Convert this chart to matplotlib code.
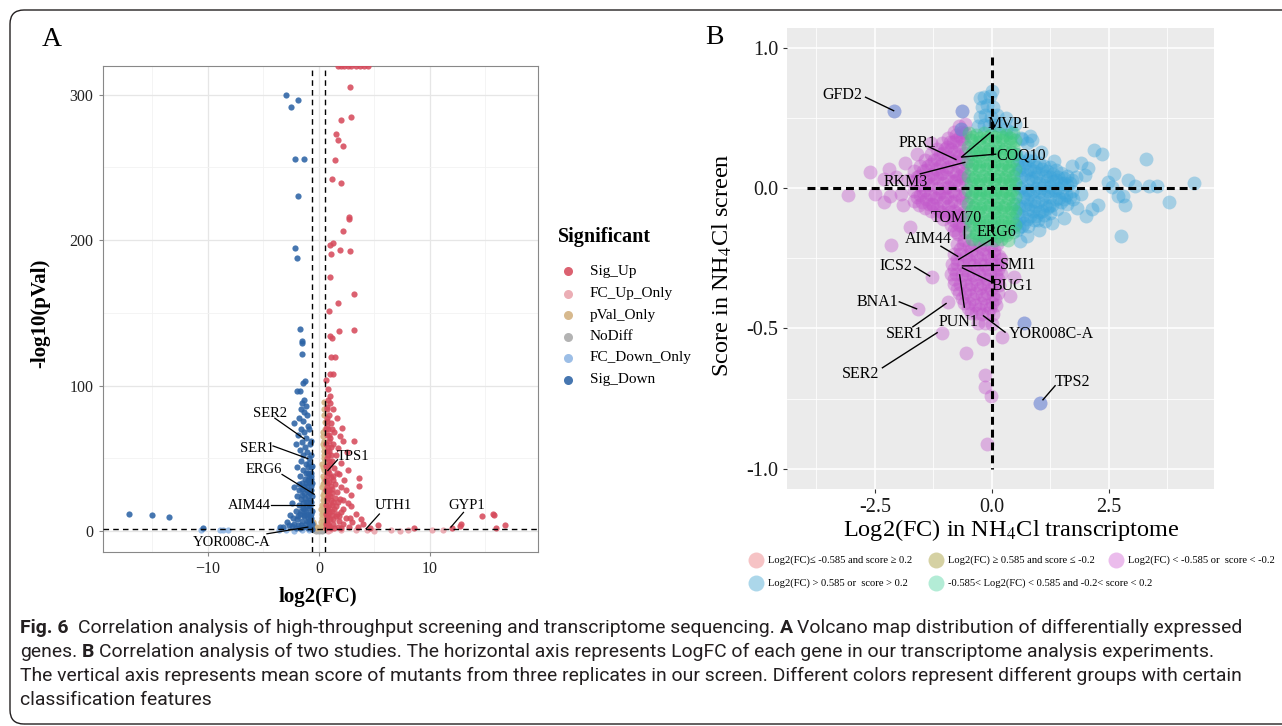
import matplotlib
matplotlib.use('Agg')
import matplotlib.pyplot as plt
from matplotlib.lines import Line2D
from matplotlib.patches import FancyBboxPatch
from matplotlib.transforms import IdentityTransform

W, H = 1282, 726
plt.rcParams['font.family'] = ['Liberation Serif', 'DejaVu Serif']
plt.rcParams['mathtext.fontset'] = 'stix'

# ---------------- panel A data: (log2FC, -log10 pval) ----------------
sig_up = [
    (1.7, 320), (2.0, 320), (2.3, 320), (2.6, 320), (2.9, 320), (3.3, 320), (3.7, 320), (4.1, 320), (4.4, 320),
    (2.84, 305), (2.0, 282.7), (2.9, 284.9), (1.58, 272.9), (1.68, 268.6), (2.19, 264.5), (1.45, 255),
    (1.19, 242), (2.03, 239.5), (2.68, 216), (2.74, 214.4), (2.13, 206.5), (1.26, 198), (1.03, 196.5),
    (1.94, 193.5), (2.8, 192.4), (1.1, 190.5), (0.97, 174.4), (3.16, 163), (1.74, 157), (0.87, 151.3),
    (1.84, 137.4), (3.13, 138.2), (1.03, 134.1), (1.19, 132.8), (1.13, 120), (1.45, 120), (1.03, 108.3),
    (1.29, 108), (0.65, 103.7), (0.8, 98),
    (0.8, 90), (1.0, 88), (0.7, 85), (1.3, 84), (0.9, 80), (1.6, 78), (0.75, 76), (1.1, 74), (2.1, 71),
    (0.85, 70), (1.4, 68), (0.7, 66), (1.9, 65), (1.0, 64), (3.2, 62), (2.2, 62), (1.25, 60), (0.8, 58),
    (1.7, 57), (0.95, 55), (2.5, 54), (1.5, 52), (0.7, 50), (1.15, 48), (2.0, 47), (0.85, 45), (1.35, 43),
    (2.6, 42), (0.75, 40), (1.8, 39), (1.05, 37), (3.6, 36.7), (2.3, 35), (0.9, 34), (1.45, 32), (3.65, 31),
    (0.7, 30), (1.2, 29), (2.4, 28), (1.65, 27), (0.85, 26), (2.9, 25), (1.0, 24), (1.9, 22), (0.75, 21),
    (2.15, 21), (1.3, 20), (2.6, 19), (0.9, 18), (1.55, 17), (2.87, 17), (0.7, 15), (1.15, 14), (2.0, 13),
    (3.3, 12), (0.8, 11), (1.5, 10), (2.4, 9), (1.0, 8), (1.85, 7), (3.0, 6.5), (0.7, 6), (1.3, 5), (2.2, 4.5),
    (4.0, 4.9), (5.32, 4.4), (0.9, 3.5), (1.7, 3), (2.7, 3), (3.5, 2.5), (1.1, 2.2), (2.0, 2), (4.6, 2.2),
    (0.65, 2), (1.4, 1.8), (0.72, 8.5), (0.68, 12), (0.75, 23), (0.66, 35), (0.8, 42), (0.7, 55),
    (0.9, 62), (0.72, 72), (1.05, 52), (1.25, 38), (0.95, 28), (1.15, 18), (0.8, 4.5), (1.2, 11),
    (0.65, 5), (0.75, 9.5), (0.68, 18), (0.8, 25), (0.66, 28), (0.75, 33), (0.95, 13), (1.1, 21),
    (0.9, 40), (1.0, 46), (0.66, 45), (1.3, 35), (1.2, 26), (1.45, 23), (1.6, 12), (1.25, 8), (0.8, 52),
    (1.1, 58), (0.68, 60), (0.9, 66), (1.2, 70), (0.7, 78), (1.0, 93), (1.6, 40), (2.2, 15), (2.8, 9),
    (3.8, 8), (0.85, 15), (1.05, 31), (0.72, 38), (1.4, 15), (0.95, 3), (1.7, 20), (2.0, 30), (1.8, 10),
    (0.67, 70), (0.75, 84), (0.9, 48),
    (8.6, 2.2), (12.8, 4.9), (12.7, 3.5), (14.7, 10.3), (15.7, 11.7), (15.8, 10.9), (15.97, 2.2),
    (16.8, 4.1), (12.0, 2.2),
]
fc_up_only = [(1.0, 0.8), (2.0, 0.5), (3.3, 0.6), (4.3, 0.9), (5.0, 0.3), (6.5, 0.7), (7.3, 0.2),
              (8.0, 0.5), (10.2, 0.6), (11.2, 1.0), (0.8, 0.3)]
pval_only = [(0.5, 89), (0.45, 80), (0.52, 75), (0.4, 68), (0.48, 62), (0.36, 59.6), (0.5, 55), (0.42, 50),
             (0.3, 46), (0.5, 42), (0.38, 38), (0.47, 34), (0.25, 30), (0.42, 27), (0.5, 24), (0.33, 21),
             (0.45, 18), (0.2, 15), (0.4, 13), (0.5, 11), (0.28, 9), (0.45, 7), (0.15, 6), (0.35, 5),
             (0.5, 4), (-0.45, 4), (-0.5, 6), (0.05, 3), (0.25, 2.5), (-0.35, 2.5), (-0.2, 2),
             (0.42, 3), (0.48, 15), (0.38, 25), (0.52, 29), (0.45, 36), (0.4, 44), (0.52, 48), (0.47, 52),
             (0.35, 65), (0.55, 70), (0.3, 12), (0.45, 22), (0.5, 58), (0.42, 84), (0.38, 32), (0.3, 18)]
no_diff = [(-0.4, 0.5), (-0.2, 0.8), (0.0, 0.3), (0.2, 1.0), (0.4, 0.6), (-0.1, 1.1), (0.3, 0.2),
           (0.1, 0.7), (-0.3, 0.2), (0.5, 0.9)]
fc_down_only = [(-8.9, 0.6), (-8.6, 0.4), (-8.2, 0.8), (-10.6, 0.9), (-3.6, 0.5), (-3.0, 0.8),
                (-2.2, 0.3), (-1.5, 0.6), (-0.9, 0.4)]
sig_down = [
    (-3.0, 300.1), (-1.84, 296.3), (-2.55, 291.4), (-2.16, 256), (-1.35, 255.5), (-1.87, 230.7),
    (-2.13, 194.8), (-1.94, 187.5), (-1.68, 139), (-1.55, 130.9), (-1.55, 129), (-1.55, 121.6),
    (-1.29, 103.4), (-1.39, 101.5), (-1.97, 96), (-1.71, 96),
    (-1.3, 90), (-1.5, 88), (-1.2, 86), (-1.6, 84), (-1.35, 82), (-1.1, 80), (-1.8, 78), (-1.45, 76),
    (-2.2, 74), (-1.0, 72), (-1.6, 70), (-1.3, 68), (-1.9, 66), (-1.15, 64), (-2.1, 60), (-1.5, 61),
    (-0.8, 60), (-1.25, 58), (-1.7, 56), (-1.05, 54), (-1.4, 52), (-0.9, 50), (-1.6, 48), (-1.2, 46),
    (-1.95, 44), (-0.75, 44), (-1.4, 42), (-1.0, 40), (-1.7, 38), (-1.25, 36), (-0.85, 34), (-2.2, 30),
    (-1.5, 33), (-1.1, 31), (-1.8, 28), (-0.7, 28), (-1.35, 26), (-1.0, 24), (-2.0, 24), (-1.6, 22),
    (-0.8, 21), (-1.2, 20), (-2.4, 19), (-1.8, 18), (-1.45, 16), (-0.9, 16), (-2.1, 14), (-1.15, 13),
    (-0.7, 12), (-1.7, 12), (-2.6, 11), (-1.35, 10), (-0.95, 9), (-2.0, 8), (-1.55, 7), (-0.75, 6),
    (-2.9, 6), (-1.2, 5), (-1.85, 4), (-2.4, 3.5), (-0.85, 3), (-1.45, 2.5), (-3.2, 2.5), (-1.0, 2),
    (-2.1, 2), (-1.7, 1.8), (-0.65, 1.6), (-3.5, 3), (-2.7, 4), (-0.7, 20), (-0.68, 38), (-0.9, 27),
    (-1.1, 7), (-0.8, 10), (-1.3, 15),
    (-0.65, 5), (-0.75, 9), (-0.65, 14), (-0.8, 17), (-0.65, 24), (-0.75, 31), (-0.65, 33), (-0.9, 38),
    (-0.7, 40), (-1.0, 44), (-0.85, 47), (-0.7, 52), (-1.1, 28), (-1.25, 23), (-1.4, 19), (-1.05, 17),
    (-1.6, 14), (-1.3, 11), (-1.9, 10), (-0.9, 6), (-1.65, 4), (-2.2, 5), (-1.05, 12), (-1.5, 25),
    (-1.8, 32), (-0.95, 20), (-1.2, 33), (-0.62, 45), (-0.7, 62), (-0.9, 70), (-1.15, 40), (-0.8, 26),
    (-1.55, 29), (-2.3, 9), (-1.0, 35), (-0.7, 36), (-1.3, 30),
    (-17.1, 11.7), (-15.0, 10.9), (-13.5, 9.8), (-10.4, 2.2),
]
groups_a = ['Sig_Up', 'FC_Up_Only', 'pVal_Only', 'NoDiff', 'FC_Down_Only', 'Sig_Down']
colors_a = ['#d64b5c', '#e9a3ab', '#d2b07f', '#a9a9a9', '#8fb5e3', '#2c63a5']
points_a = [sig_up, fc_up_only, pval_only, no_diff, fc_down_only, sig_down]
draw_order_a = [3, 1, 4, 2, 0, 5]

# label text position, segment start, segment end
labels_a = {
    'SER2': ((-4.42, 80.5), (-3.97, 77.6), (-1.32, 63.4)),
    'SER1': ((-5.58, 56.6), (-4.13, 58.5), (-1.0, 49.8)),
    'ERG6': ((-4.97, 42.2), (-3.32, 38.9), (-0.42, 25.3)),
    'AIM44': ((-6.23, 17.7), (-4.29, 17.7), (-0.42, 17.7)),
    'YOR008C-A': ((-7.9, -8.2), (-4.68, -1.9), (-1.0, 2.7)),
    'TPS1': ((3.1, 51.2), (1.68, 49.0), (0.81, 41.6)),
    'UTH1': ((6.68, 17.7), (5.45, 11.7), (4.26, 1.6)),
    'GYP1': ((13.35, 17.7), (13.03, 12.8), (11.9, 2.7)),
}
xticks_a = [-10, 0, 10]
xticklabels_a = ['\u221210', '0', '10']
yticks_a = [0, 100, 200, 300]

# ---------------- panel B data: (log2FC, score) ----------------
purple_pts = [
    # left wedge
    (-0.58, 0.23), (-0.57, 0.195), (-0.59, 0.16), (-0.58, 0.125), (-0.56, 0.09), (-0.59, 0.055),
    (-0.57, 0.02), (-0.58, -0.015), (-0.56, -0.05), (-0.59, -0.085), (-0.57, -0.12), (-0.58, -0.155),
    (-0.6, -0.185),
    (-0.7, 0.22), (-0.69, 0.185), (-0.71, 0.15), (-0.7, 0.115), (-0.72, 0.08), (-0.69, 0.045),
    (-0.71, 0.01), (-0.7, -0.025), (-0.68, -0.06), (-0.71, -0.095), (-0.7, -0.13), (-0.72, -0.165),
    (-0.82, 0.2), (-0.83, 0.165), (-0.81, 0.13), (-0.82, 0.095), (-0.84, 0.06), (-0.81, 0.025),
    (-0.83, -0.01), (-0.82, -0.045), (-0.8, -0.08), (-0.83, -0.115), (-0.82, -0.15),
    (-0.94, 0.18), (-0.95, 0.145), (-0.93, 0.11), (-0.94, 0.075), (-0.96, 0.04), (-0.93, 0.005),
    (-0.95, -0.03), (-0.94, -0.065), (-0.92, -0.1),
    (-1.06, 0.16), (-1.05, 0.125), (-1.07, 0.09), (-1.06, 0.055), (-1.04, 0.02), (-1.07, -0.015),
    (-1.05, -0.05), (-1.06, -0.085), (-1.04, -0.11),
    (-1.18, 0.14), (-1.17, 0.105), (-1.19, 0.07), (-1.18, 0.035), (-1.16, 0.0), (-1.19, -0.035),
    (-1.17, -0.07), (-1.18, -0.095),
    (-1.3, 0.12), (-1.31, 0.085), (-1.29, 0.05), (-1.3, 0.015), (-1.32, -0.02), (-1.29, -0.055),
    (-1.3, -0.08),
    (-1.42, 0.1), (-1.41, 0.065), (-1.43, 0.03), (-1.42, -0.005), (-1.4, -0.04), (-1.43, -0.07),
    (-1.54, 0.08), (-1.55, 0.045), (-1.53, 0.01), (-1.54, -0.025), (-1.56, -0.06),
    (-1.66, 0.06), (-1.65, 0.025), (-1.67, -0.01), (-1.66, -0.045),
    (-0.64, 0.2), (-0.76, 0.17), (-0.88, 0.14), (-0.64, -0.1), (-0.76, -0.12), (-0.88, -0.05),
    (-1.0, 0.0), (-1.12, 0.08), (-1.24, -0.03), (-0.64, 0.07), (-0.76, 0.03), (-1.36, 0.04),
    (-0.63, 0.175), (-0.65, 0.105), (-0.62, 0.035), (-0.64, -0.035), (-0.63, -0.135),
    (-0.77, 0.19), (-0.75, 0.12), (-0.76, 0.05), (-0.78, -0.02), (-0.75, -0.09), (-0.77, -0.155),
    (-0.89, 0.165), (-0.87, 0.095), (-0.88, 0.025), (-0.89, -0.085), (-0.87, -0.13),
    (-1.0, 0.14), (-0.99, 0.07), (-1.01, -0.035), (-1.0, -0.095),
    (-1.12, 0.12), (-1.11, 0.05), (-1.13, -0.02), (-1.12, -0.08),
    (-1.24, 0.1), (-1.23, 0.035), (-1.25, -0.06),
    (-1.36, 0.08), (-1.37, 0.01), (-1.35, -0.055),
    (-1.48, 0.06), (-1.47, -0.015), (-1.49, -0.05),
    (-1.6, 0.04), (-1.61, -0.03),
    # wedge fringe
    (-1.8, 0.03), (-1.95, -0.02), (-2.05, 0.04), (-2.2, 0.07), (-2.3, -0.05), (-2.6, 0.057),
    (-2.18, -0.029), (-3.08, -0.023), (-2.31, 0.034), (-1.61, 0.12), (-1.85, 0.09), (-1.3, 0.16),
    (-1.75, -0.137), (-2.16, -0.201), (-1.9, -0.06), (-2.5, -0.02),
    # points that also pass the blue rule
    (-2.1, 0.274), (-0.63, 0.274), (-0.66, 0.212),
    # bottom lobe
    (-0.74, -0.2), (-0.62, -0.2), (-0.5, -0.205), (-0.38, -0.2), (-0.26, -0.205), (-0.14, -0.2),
    (-0.02, -0.205), (0.1, -0.2),
    (-0.8, -0.235), (-0.68, -0.235), (-0.56, -0.24), (-0.44, -0.235), (-0.32, -0.24), (-0.2, -0.235),
    (-0.08, -0.24), (0.04, -0.235), (0.16, -0.24),
    (-0.86, -0.27), (-0.74, -0.27), (-0.62, -0.275), (-0.5, -0.27), (-0.38, -0.275), (-0.26, -0.27),
    (-0.14, -0.275), (-0.02, -0.27), (0.1, -0.275), (0.2, -0.27),
    (-0.88, -0.305), (-0.76, -0.305), (-0.64, -0.31), (-0.52, -0.305), (-0.4, -0.31), (-0.28, -0.305),
    (-0.16, -0.31), (-0.04, -0.305), (0.08, -0.31), (0.2, -0.305),
    (-0.8, -0.34), (-0.68, -0.34), (-0.56, -0.345), (-0.44, -0.34), (-0.32, -0.345), (-0.2, -0.34),
    (-0.08, -0.345), (0.04, -0.34), (0.15, -0.345),
    (-0.7, -0.375), (-0.58, -0.375), (-0.46, -0.38), (-0.34, -0.375), (-0.22, -0.38), (-0.1, -0.375),
    (0.02, -0.38), (0.12, -0.375),
    (-0.6, -0.41), (-0.48, -0.41), (-0.36, -0.415), (-0.24, -0.41), (-0.12, -0.415), (0.0, -0.41),
    (0.08, -0.415),
    (-0.45, -0.445), (-0.33, -0.445), (-0.21, -0.45), (-0.09, -0.445), (0.03, -0.45),
    (-0.3, -0.48), (-0.15, -0.48), (0.0, -0.485),
    (-0.68, -0.218), (-0.44, -0.22), (-0.2, -0.217), (0.04, -0.219),
    (-0.74, -0.253), (-0.5, -0.255), (-0.26, -0.252), (-0.02, -0.254), (0.2, -0.253),
    (-0.8, -0.288), (-0.56, -0.29), (-0.32, -0.287), (-0.08, -0.289), (0.14, -0.288),
    (-0.82, -0.323), (-0.58, -0.325), (-0.34, -0.322), (-0.1, -0.324), (0.14, -0.323),
    (-0.74, -0.358), (-0.5, -0.36), (-0.26, -0.357), (-0.02, -0.359),
    (-0.64, -0.393), (-0.4, -0.395), (-0.16, -0.392), (0.06, -0.394),
    (-0.52, -0.428), (-0.28, -0.43), (-0.04, -0.427),
    # scattered low scores
    (-1.29, -0.316), (-1.58, -0.431), (-0.94, -0.406), (-1.06, -0.515), (-0.55, -0.589), (-0.2, -0.538),
    (-0.14, -0.665), (-0.14, -0.71), (-0.02, -0.742), (-0.1, -0.911), (0.21, -0.532), (0.39, -0.386),
    (0.47, -0.316), (0.69, -0.48), (1.03, -0.765),
]
blue_pts = [
    # right wedge
    (0.52, 0.12), (0.53, 0.085), (0.51, 0.05), (0.52, 0.015), (0.54, -0.02), (0.51, -0.055),
    (0.53, -0.09), (0.52, -0.125), (0.54, -0.15),
    (0.64, 0.11), (0.65, 0.075), (0.63, 0.04), (0.64, 0.005), (0.66, -0.03), (0.63, -0.065),
    (0.65, -0.1), (0.64, -0.135),
    (0.76, 0.1), (0.75, 0.065), (0.77, 0.03), (0.76, -0.005), (0.74, -0.04), (0.77, -0.075),
    (0.75, -0.11), (0.76, -0.135),
    (0.88, 0.095), (0.89, 0.06), (0.87, 0.025), (0.88, -0.01), (0.9, -0.045), (0.87, -0.08),
    (0.89, -0.115),
    (1.0, 0.09), (0.99, 0.055), (1.01, 0.02), (1.0, -0.015), (0.98, -0.05), (1.01, -0.085),
    (0.99, -0.115),
    (1.12, 0.08), (1.13, 0.045), (1.11, 0.01), (1.12, -0.025), (1.14, -0.06), (1.11, -0.095),
    (1.24, 0.075), (1.23, 0.04), (1.25, 0.005), (1.24, -0.03), (1.22, -0.065), (1.25, -0.09),
    (1.36, 0.065), (1.37, 0.03), (1.35, -0.005), (1.36, -0.04), (1.38, -0.075),
    (1.48, 0.055), (1.47, 0.02), (1.49, -0.015), (1.48, -0.05),
    (1.6, 0.045), (1.61, 0.01), (1.59, -0.025), (1.6, -0.055),
    (1.72, 0.03), (1.71, -0.01), (1.73, -0.04),
    (0.58, 0.1), (0.7, 0.09), (0.82, 0.07), (0.94, 0.0), (1.06, -0.04), (1.18, 0.03), (0.58, -0.11),
    (0.7, -0.06), (0.82, -0.02), (1.3, -0.01), (1.42, 0.0), (0.94, -0.1), (1.54, 0.02),
    (0.58, 0.065), (0.59, 0.0), (0.57, -0.07), (0.58, -0.14),
    (0.7, 0.05), (0.71, -0.015), (0.69, -0.125),
    (0.82, 0.11), (0.83, 0.035), (0.81, -0.055), (0.82, -0.1),
    (0.94, 0.075), (0.95, 0.04), (0.93, -0.065),
    (1.06, 0.07), (1.05, 0.0), (1.07, -0.08),
    (1.18, 0.06), (1.19, -0.01), (1.17, -0.07),
    (1.3, 0.05), (1.31, 0.025), (1.29, -0.06),
    (1.42, 0.04), (1.43, -0.035), (1.54, 0.035), (1.55, -0.04), (1.66, 0.02), (1.67, -0.03),
    # right fringe
    (4.32, 0.018), (3.79, -0.048), (3.29, 0.103), (2.18, 0.136), (2.36, 0.123), (2.76, -0.172),
    (2.85, -0.059), (2.81, -0.029), (2.69, -0.029), (3.06, 0.006), (3.52, 0.009), (3.35, 0.009),
    (2.48, 0.022), (2.56, 0.003), (2.26, -0.061), (2.14, -0.074), (2.06, 0.073), (1.98, 0.047),
    (1.9, -0.02), (1.82, -0.07), (1.53, -0.106), (1.29, -0.125), (1.13, -0.118), (1.33, 0.098),
    (0.81, 0.187), (0.65, 0.174), (0.59, -0.188), (1.05, 0.13), (1.9, 0.09), (2.0, -0.1), (2.6, 0.05),
    (2.9, 0.03), (1.7, 0.08), (1.8, 0.04), (0.75, -0.17), (1.0, -0.15),
    # top lobe
    (-0.3, 0.22), (-0.18, 0.225), (-0.06, 0.22), (0.06, 0.225), (0.18, 0.22), (0.3, 0.21),
    (-0.26, 0.255), (-0.14, 0.26), (-0.02, 0.255), (0.1, 0.26),
    (-0.22, 0.29), (-0.1, 0.295), (0.02, 0.29),
    (-0.16, 0.325), (-0.04, 0.33), (-0.26, 0.32), (0.0, 0.345),
    (0.4, 0.2), (0.5, 0.23), (0.62, 0.18), (0.75, 0.16), (0.85, 0.17), (0.3, 0.25),
    # points that also pass the purple rule
    (-2.1, 0.274), (-0.63, 0.274), (-0.66, 0.212), (0.69, -0.48), (1.03, -0.765),
]
green_pts = [
    (-0.5, 0.195), (-0.33, 0.19), (-0.18, 0.195), (-0.02, 0.19), (0.15, 0.195), (0.3, 0.19), (0.46, 0.195),
    (-0.44, 0.17), (-0.27, 0.165), (-0.1, 0.17), (0.06, 0.165), (0.22, 0.17), (0.38, 0.165), (0.5, 0.17),
    (-0.52, 0.145), (-0.36, 0.14), (-0.2, 0.145), (-0.04, 0.14), (0.12, 0.145), (0.28, 0.14), (0.44, 0.145),
    (-0.45, 0.12), (-0.29, 0.115), (-0.12, 0.12), (0.04, 0.115), (0.2, 0.12), (0.36, 0.115), (0.5, 0.12),
    (-0.52, 0.095), (-0.37, 0.09), (-0.21, 0.095), (-0.05, 0.09), (0.11, 0.095), (0.27, 0.09), (0.43, 0.095),
    (-0.44, 0.07), (-0.28, 0.065), (-0.13, 0.07), (0.03, 0.065), (0.19, 0.07), (0.35, 0.065), (0.5, 0.07),
    (-0.51, 0.045), (-0.36, 0.04), (-0.2, 0.045), (-0.04, 0.04), (0.12, 0.045), (0.28, 0.04), (0.44, 0.045),
    (-0.45, 0.02), (-0.29, 0.015), (-0.12, 0.02), (0.04, 0.015), (0.2, 0.02), (0.36, 0.015), (0.5, 0.02),
    (-0.52, -0.005), (-0.37, -0.01), (-0.21, -0.005), (-0.05, -0.01), (0.11, -0.005), (0.27, -0.01),
    (0.43, -0.005),
    (-0.44, -0.03), (-0.28, -0.035), (-0.13, -0.03), (0.03, -0.035), (0.19, -0.03), (0.35, -0.035),
    (0.5, -0.03),
    (-0.51, -0.055), (-0.36, -0.06), (-0.2, -0.055), (-0.04, -0.06), (0.12, -0.055), (0.28, -0.06),
    (0.44, -0.055),
    (-0.45, -0.08), (-0.29, -0.085), (-0.12, -0.08), (0.04, -0.085), (0.2, -0.08), (0.36, -0.085),
    (0.5, -0.08),
    (-0.52, -0.105), (-0.37, -0.11), (-0.21, -0.105), (-0.05, -0.11), (0.11, -0.105), (0.27, -0.11),
    (0.43, -0.105),
    (-0.44, -0.13), (-0.28, -0.135), (-0.13, -0.13), (0.03, -0.135), (0.19, -0.13), (0.35, -0.135),
    (0.49, -0.13),
    (-0.5, -0.155), (-0.35, -0.16), (-0.2, -0.155), (-0.04, -0.16), (0.12, -0.155), (0.28, -0.16),
    (0.44, -0.155),
    (-0.42, -0.18), (-0.27, -0.185), (-0.12, -0.18), (0.04, -0.185), (0.2, -0.18), (0.35, -0.185),
    (-0.42, 0.182), (-0.26, 0.18), (-0.1, 0.183), (0.06, 0.181), (0.22, 0.182), (0.38, 0.18),
    (-0.4, 0.132), (-0.25, 0.13), (-0.08, 0.133), (0.08, 0.131), (0.24, 0.132), (0.4, 0.13),
    (-0.43, 0.082), (-0.27, 0.08), (-0.11, 0.083), (0.05, 0.081), (0.21, 0.082), (0.37, 0.08),
    (-0.41, 0.032), (-0.25, 0.03), (-0.09, 0.033), (0.07, 0.031), (0.23, 0.032), (0.39, 0.03),
    (-0.42, -0.018), (-0.26, -0.02), (-0.1, -0.017), (0.06, -0.019), (0.22, -0.018), (0.38, -0.02),
    (-0.4, -0.068), (-0.25, -0.07), (-0.08, -0.067), (0.08, -0.069), (0.24, -0.068), (0.4, -0.07),
    (-0.43, -0.118), (-0.27, -0.12), (-0.11, -0.117), (0.05, -0.119), (0.21, -0.118), (0.37, -0.12),
    (-0.34, -0.168), (-0.18, -0.17), (-0.02, -0.167), (0.14, -0.169), (0.3, -0.168),
]
labels_b = {
    'GFD2': ((-3.19, 0.333), (-2.70, 0.324), (-2.10, 0.276)),
    'MVP1': ((0.355, 0.228), (-0.04, 0.197), (-0.65, 0.111)),
    'PRR1': ((-1.58, 0.162), (-1.37, 0.149), (-0.77, 0.102)),
    'COQ10': ((0.63, 0.117), (0.08, 0.121), (-0.63, 0.111)),
    'RKM3': ((-1.84, 0.022), (-1.53, 0.051), (-0.58, 0.092)),
    'TOM70': ((-0.77, -0.106), (-0.59, -0.134), (-0.59, -0.179)),
    'ERG6': ((0.105, -0.156), (0.0, -0.182), (-0.71, -0.254)),
    'AIM44': ((-1.35, -0.182), (-1.09, -0.207), (-0.73, -0.243)),
    'SMI1': ((0.55, -0.275), (0.16, -0.275), (-0.63, -0.277)),
    'BUG1': ((0.44, -0.35), (0.0, -0.335), (-0.63, -0.284)),
    'ICS2': ((-2.06, -0.277), (-1.65, -0.281), (-1.33, -0.313)),
    'BNA1': ((-2.44, -0.405), (-1.98, -0.405), (-1.61, -0.43)),
    'SER1': ((-1.87, -0.519), (-1.69, -0.494), (-0.98, -0.411)),
    'PUN1': ((-0.71, -0.478), (-0.59, -0.424), (-0.69, -0.309)),
    'SER2': ((-2.81, -0.662), (-2.34, -0.64), (-1.17, -0.515)),
    'YOR008C-A': ((1.28, -0.519), (0.28, -0.513), (-0.18, -0.455)),
    'TPS2': ((1.72, -0.691), (1.35, -0.704), (1.09, -0.754)),
}
xticks_b = [-2.5, 0.0, 2.5]
xticklabels_b = ['-2.5', '0.0', '2.5']
yticks_b = [0.5, 0.0, -0.5, -1.0]
yticklabels_b = ['1.0', '0.0', '-0.5', '-1.0']
legend_b = ['Log2(FC)\u2264 -0.585 and score \u2265 0.2',
            'Log2(FC) \u2265 0.585 and score \u2264 -0.2',
            'Log2(FC) < -0.585 or  score < -0.2',
            'Log2(FC) > 0.585 or  score > 0.2',
            '-0.585< Log2(FC) < 0.585 and -0.2< score < 0.2']
legend_b_colors = ['#f6c3c5', '#d5d1a3', '#ebbcec', '#acd7ea', '#b3ecd6']

caption = [
    [('Fig. 6', True), ('  Correlation analysis of high-throughput screening and transcriptome sequencing.', False),
     (' A', True), (' Volcano map distribution of differentially expressed', False)],
    [('genes.', False), (' B', True),
     (' Correlation analysis of two studies. The horizontal axis represents LogFC of each gene in our transcriptome analysis experiments.', False)],
    [('The vertical axis represents mean score of mutants from three replicates in our screen. Different colors represent different groups with certain', False)],
    [('classification features', False)],
]


def fx(px):
    return px / W


def fy(py):
    return 1 - py / H


fig = plt.figure(figsize=(W / 100, H / 100), dpi=100)

# rounded frame around the whole figure
fig.add_artist(FancyBboxPatch((10, 2), 1300, 714, boxstyle='round,pad=0,rounding_size=14',
                              transform=IdentityTransform(), fill=False, lw=1.0, ec='#231f20'))

# ---------------- panel A ----------------
axA = fig.add_axes([fx(102.5), fy(552.4), 435 / W, (552.4 - 66.4) / H])
for i in draw_order_a:
    pts = points_a[i]
    axA.scatter([p[0] for p in pts], [p[1] for p in pts], s=20, color=colors_a[i], alpha=0.88,
                linewidths=0, zorder=3)
axA.set_xlim(-19.5, 19.7)
axA.set_ylim(-14.7, 319.5)
axA.set_xticks(xticks_a)
axA.set_xticklabels(xticklabels_a)
axA.set_yticks(yticks_a)
axA.set_xticks([-15, -5, 5, 15], minor=True)
axA.set_yticks([50, 150, 250], minor=True)
axA.grid(which='major', color='#e6e6e6', lw=0.9)
axA.grid(which='minor', color='#f2f2f2', lw=0.6)
axA.set_axisbelow(True)
axA.tick_params(which='major', length=3, color='#888888', labelsize=11.5, labelcolor='#222222')
axA.tick_params(which='minor', length=0)
for sp in axA.spines.values():
    sp.set_color('#888888')
    sp.set_linewidth(0.8)
axA.axvline(-0.585, color='black', lw=1, ls=(0, (4, 3)), zorder=4)
axA.axvline(0.585, color='black', lw=1, ls=(0, (4, 3)), zorder=4)
axA.axhline(1.3, color='black', lw=1, ls=(0, (4, 3)), zorder=4)
for name, (tp, s0, s1) in labels_a.items():
    axA.plot([s0[0], s1[0]], [s0[1], s1[1]], color='black', lw=0.9, zorder=5)
    axA.text(tp[0], tp[1], name, ha='center', va='center', fontsize=10.5, zorder=6)

fig.text(fx(40), fy(313), '-log10(pVal)', rotation=90, ha='center', va='center', fontsize=15,
         fontweight='bold')
fig.text(fx(318), fy(597), 'log2(FC)', ha='center', va='center', fontsize=15, fontweight='bold')
fig.text(fx(52), fy(40), 'A', ha='center', va='center', fontsize=20)

# legend of panel A
fig.text(fx(558), fy(237), 'Significant', ha='left', va='center', fontsize=14.5, fontweight='bold')
for i, yy in enumerate([271, 294, 315, 337, 358, 380]):
    fig.add_artist(Line2D([fx(568)], [fy(yy)], marker='o', ms=6.5, color=colors_a[i], ls='none',
                          alpha=0.88, mew=0, transform=fig.transFigure))
    fig.text(fx(590), fy(yy), groups_a[i], ha='left', va='center', fontsize=11)

# ---------------- panel B ----------------
axB = fig.add_axes([fx(787.4), fy(489.3), (1213.8 - 787.4) / W, (489.3 - 27.9) / H])
axB.set_facecolor('#ebebeb')
for pts, col in [(purple_pts, '#c257cb'), (blue_pts, '#3ba3d9'), (green_pts, '#3cc97c')]:
    axB.scatter([p[0] for p in pts], [p[1] for p in pts], s=100, color=col, alpha=0.4,
                linewidths=0, zorder=3)
axB.set_xlim(-4.37, 4.74)
axB.set_ylim(-1.073, 0.571)
axB.set_xticks(xticks_b)
axB.set_xticklabels(xticklabels_b)
axB.set_yticks(yticks_b)
axB.set_yticklabels(yticklabels_b)
axB.set_xticks([-3.75, -1.25, 1.25, 3.75], minor=True)
axB.set_yticks([0.25, -0.25, -0.75], minor=True)
axB.grid(which='major', color='white', lw=1.1)
axB.grid(which='minor', color='white', lw=0.55)
axB.set_axisbelow(True)
for sp in axB.spines.values():
    sp.set_visible(False)
axB.tick_params(which='major', length=3, color='#333333', labelsize=14.5, labelcolor='#1a1a1a')
axB.tick_params(which='minor', length=0)
axB.plot([-3.95, 4.35], [0, 0], color='black', lw=2.2, ls=(0, (2.6, 1.6)), zorder=4)
axB.plot([0, 0], [0.467, -1.0], color='black', lw=2.2, ls=(0, (2.6, 1.6)), zorder=4)
for name, (tp, s0, s1) in labels_b.items():
    axB.plot([s0[0], s1[0]], [s0[1], s1[1]], color='black', lw=1.0, zorder=5)
    axB.text(tp[0], tp[1], name, ha='center', va='center', fontsize=11.5, zorder=6)

fig.text(fx(722), fy(265), 'Score in NH$_4$Cl screen', rotation=90, ha='center', va='center',
         fontsize=17.5)
fig.text(fx(1011), fy(530), 'Log2(FC) in NH$_4$Cl transcriptome', ha='center', va='center',
         fontsize=17.5)
fig.text(fx(714), fy(37), 'B', ha='center', va='center', fontsize=20)

# legend of panel B (two rows, fixed columns)
leg_pos = [(756, 560), (936, 560), (1116, 560), (756, 583), (936, 583)]
for (cx, cy), lab, col in zip(leg_pos, legend_b, legend_b_colors):
    fig.add_artist(Line2D([fx(cx)], [fy(cy)], marker='o', ms=11.5, color=col, ls='none', mew=0,
                          transform=fig.transFigure))
    fig.text(fx(cx + 12), fy(cy), lab, ha='left', va='center', fontsize=7.6)

# ---------------- caption ----------------
r = fig.canvas.get_renderer()
probe = fig.text(0, 0, caption[2][0][0], fontsize=12, family='Roboto')
scale = 1219 / probe.get_window_extent(r).width
probe.remove()
cap_size = 12 * scale
for line, yy in zip(caption, [628, 652, 676, 700]):
    x = 20
    for txt, bold in line:
        lead = len(txt) - len(txt.lstrip(' '))
        if lead:
            sp = fig.text(0, 0, 'x' + ' ' * lead + 'x', fontsize=cap_size, family='Roboto')
            sp2 = fig.text(0, 0, 'xx', fontsize=cap_size, family='Roboto')
            x += sp.get_window_extent(r).width - sp2.get_window_extent(r).width
            sp.remove()
            sp2.remove()
        t = fig.text(fx(x), fy(yy), txt.lstrip(' '), fontsize=cap_size, family='Roboto',
                     fontweight='bold' if bold else 'normal', color='#231f20', ha='left', va='center')
        x += t.get_window_extent(r).width

fig.savefig('out.png', dpi=100)
